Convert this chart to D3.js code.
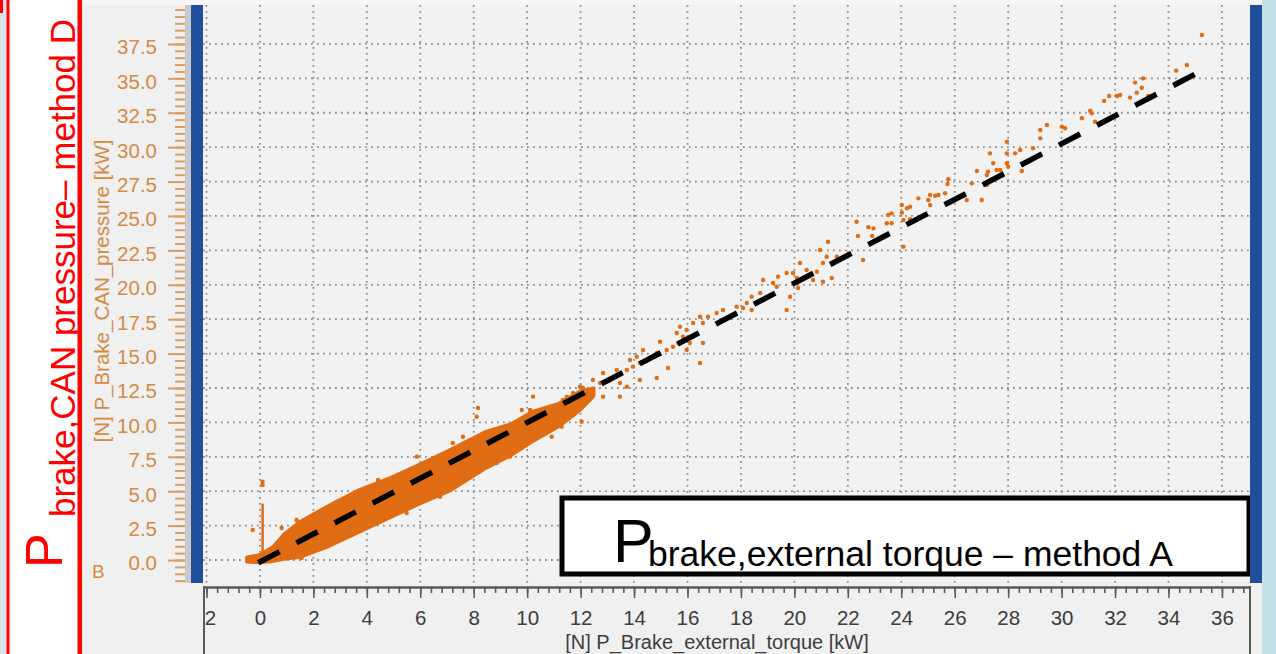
<!DOCTYPE html>
<html>
<head>
<meta charset="utf-8">
<script src="https://cdn.jsdelivr.net/npm/d3@7"></script>
<style>
    body { margin: 0; background: #f0f0f0; overflow: hidden; }
    svg { display: block; font-family: "Liberation Sans", Arial, sans-serif; }
</style>
</head>
<body>
<div id="chart"></div>
<script>
// ---- data (kW) ----
var xTickVals = [-2, 0, 2, 4, 6, 8, 10, 12, 14, 16, 18, 20, 22, 24, 26, 28, 30, 32, 34, 36];
var yTickVals = [0, 2.5, 5, 7.5, 10, 12.5, 15, 17.5, 20, 22.5, 25, 27.5, 30, 32.5, 35, 37.5];

// the dense cloud between 0 and ~12 kW, as lower / upper edge
var bandX  = [-0.5, 0.0, 0.5, 0.9, 1.5, 2.6, 3.7, 4.9, 5.9, 7.1, 8.4, 9.4, 10.2, 11.2, 12.0, 12.5];
var bandLo = [-0.15, -0.2, -0.1, 0.05, 0.2, 1.0, 2.0, 3.1, 4.0, 5.0, 6.6, 7.6, 8.6, 9.7, 10.9, 11.9];
var bandHi = [0.2, 0.4, 1.0, 1.9, 2.8, 4.0, 5.1, 6.0, 6.9, 8.0, 9.3, 9.9, 10.8, 11.4, 12.3, 12.5];

// vertical streak at 0 kW external torque
var spike = [[0.1, 0], [0.1, 4.1]];

// single points [external torque, CAN pressure]
var scatter = [
    [-0.27, 2.18], [0.10, 5.45], [0.10, 5.69], [1.56, 0.15], [4.42, 5.81], [2.87, 4.24], [2.43, 3.63],
    [1.37, 2.91], [0.81, 2.33], [6.10, 4.60], [6.74, 4.87], [8.16, 11.05], [8.11, 10.41], [7.60, 8.96],
    [10.22, 11.87], [9.80, 10.90], [10.11, 10.90], [10.92, 8.96], [11.29, 9.69], [11.34, 11.63],
    [12.09, 12.50], [12.04, 10.05], [10.59, 10.41], [10.48, 9.69], [9.10, 8.23], [9.36, 7.51],
    [8.86, 7.05], [7.86, 7.78], [7.11, 6.78], [6.48, 5.33], [6.74, 4.60], [5.49, 3.42], [5.12, 4.14],
    [3.99, 4.60], [3.25, 1.96], [2.50, 1.45], [1.87, 0.97], [1.24, 0.51], [5.87, 7.51], [7.22, 8.50],
    [8.61, 9.23], [9.61, 9.96],
    [22.33, 24.58], [22.96, 24.10], [23.51, 25.07], [22.38, 23.55], [22.57, 21.80], [22.91, 23.55],
    [21.26, 23.13], [21.59, 22.04], [21.21, 22.04], [20.96, 22.53], [21.07, 21.58], [20.21, 21.58],
    [20.46, 21.07], [20.70, 20.35], [21.07, 20.22], [21.40, 20.49], [20.84, 20.95], [19.95, 20.86],
    [20.09, 20.49], [19.71, 20.86], [19.39, 20.59], [18.83, 20.35], [19.20, 20.13], [19.34, 19.86],
    [19.84, 19.13], [19.71, 18.17], [20.14, 19.77], [18.72, 19.40], [18.40, 19.13], [18.22, 18.68],
    [18.40, 18.17], [18.08, 18.31], [17.84, 18.41], [17.33, 18.17], [17.09, 17.95], [16.77, 17.68],
    [16.47, 17.68], [16.58, 17.22], [16.21, 17.22], [15.97, 16.71], [15.72, 16.95], [15.60, 16.50],
    [15.83, 16.23], [16.09, 15.77], [16.58, 15.77], [15.65, 15.77], [15.46, 15.50], [15.22, 15.26],
    [14.97, 15.86], [15.97, 15.26], [16.47, 14.32], [15.27, 13.95], [14.85, 15.04], [14.60, 14.68],
    [14.34, 15.26], [14.22, 14.32], [14.10, 14.77], [13.85, 14.53], [13.96, 14.05], [13.73, 13.81],
    [14.85, 13.23], [14.22, 13.08], [13.35, 13.81], [13.10, 13.08], [13.47, 12.86], [12.84, 13.59],
    [12.73, 12.86], [12.46, 13.08], [12.35, 12.35], [12.84, 11.87], [13.73, 12.59], [13.47, 11.87],
    [11.98, 12.59], [11.72, 12.14], [12.09, 11.63], [11.48, 11.87],
    [35.25, 38.15], [34.69, 35.97], [34.29, 35.56], [33.05, 35.00], [32.75, 34.69], [33.00, 34.32],
    [32.81, 33.96], [33.24, 33.72], [32.56, 33.60], [32.19, 33.79], [32.07, 33.72], [31.78, 33.72],
    [31.59, 33.36], [31.07, 32.65], [31.13, 32.46], [30.76, 32.10], [31.25, 31.85], [30.01, 31.49],
    [30.13, 31.37], [29.45, 31.61], [29.20, 31.25], [29.20, 30.64], [28.93, 29.92], [28.45, 29.79],
    [28.26, 29.55], [27.95, 30.40], [27.95, 29.55], [27.32, 29.55], [27.44, 28.83], [27.95, 28.83],
    [28.00, 28.58], [27.57, 28.34], [27.70, 28.34], [28.51, 28.27], [27.25, 28.22], [27.20, 27.98],
    [26.83, 28.27], [25.76, 27.67], [25.73, 27.32], [25.64, 26.65], [25.39, 26.52], [25.27, 26.47],
    [25.08, 26.52], [25.01, 26.16], [24.64, 26.28], [25.08, 25.80], [26.64, 27.37], [27.20, 27.25],
    [26.45, 26.16], [27.01, 26.16], [24.33, 25.67], [24.21, 25.56], [24.02, 25.80], [24.02, 25.24],
    [23.64, 25.19], [23.46, 24.47], [23.64, 24.47], [24.33, 24.76], [24.08, 24.71], [22.77, 24.18],
    [24.08, 22.77]
];

// dashed reference line
var fitLine = [[-0.06, -0.2], [35.53, 35.85]];

// ---- layout ----
var W = 1276, H = 654;
var plot = {left: 203, right: 1250, top: 5, bottom: 583};
var orange = '#e06c14';
var axisOrange = '#d58a42';

var svg = d3.select('#chart').append('svg')
    .attr('width', W)
    .attr('height', H);

var x = d3.scaleLinear().domain([-2.13, 37.05]).range([plot.left, plot.right]);
var y = d3.scaleLinear().domain([-1.67, 40.33]).range([plot.bottom, plot.top]);

// window background + the slide's left panel
svg.append('rect').attr('width', W).attr('height', H).attr('fill', '#f0f0f0');
svg.append('rect').attr('x', 0).attr('y', 0).attr('width', 8).attr('height', H).attr('fill', '#d9e4ea');
svg.append('rect').attr('x', 8).attr('y', 0).attr('width', 74).attr('height', H).attr('fill', '#ffffff');
svg.append('rect').attr('x', 6.5).attr('y', 0).attr('width', 3).attr('height', H).attr('fill', '#ff0000');
svg.append('rect').attr('x', 77.5).attr('y', 0).attr('width', 4.5).attr('height', H).attr('fill', '#ff0000');
svg.append('rect').attr('x', 0).attr('y', 0).attr('width', 3).attr('height', 13).attr('fill', '#ff0000');
svg.append('rect').attr('x', 82).attr('y', 0).attr('width', W - 82).attr('height', plot.top).attr('fill', '#f6f6f6');

// plot area
svg.append('rect')
    .attr('x', plot.left).attr('y', plot.top)
    .attr('width', plot.right - plot.left).attr('height', plot.bottom - plot.top)
    .attr('fill', '#f2f2f2');

// dotted grid
var grid = svg.append('g').attr('class', 'grid')
    .attr('stroke', '#8e8e8e').attr('stroke-width', 1.8).attr('stroke-dasharray', '1.8,4.2');
grid.selectAll('.vx').data(xTickVals).enter().append('line')
    .attr('x1', function (d) { return x(d) }).attr('x2', function (d) { return x(d) })
    .attr('y1', plot.top).attr('y2', plot.bottom);
grid.selectAll('.hy').data(yTickVals).enter().append('line')
    .attr('x1', plot.left).attr('x2', plot.right)
    .attr('y1', function (d) { return y(d) }).attr('y2', function (d) { return y(d) });

var plotG = svg.append('g');

// dense cloud
var bandData = bandX.map(function (d, i) { return {x: d, lo: bandLo[i], hi: bandHi[i]} });
var area = d3.area()
    .x(function (d) { return x(d.x) })
    .y0(function (d) { return y(d.lo) })
    .y1(function (d) { return y(d.hi) })
    .curve(d3.curveLinear);
plotG.append('path')
    .datum(bandData)
    .attr('d', area)
    .attr('fill', orange)
    .attr('stroke', orange)
    .attr('stroke-width', 3)
    .attr('stroke-linejoin', 'round');

// streak at zero
plotG.append('path')
    .datum(spike)
    .attr('d', d3.line().x(function (d) { return x(d[0]) }).y(function (d) { return y(d[1]) }))
    .attr('stroke', orange)
    .attr('stroke-width', 2.5);

// points
plotG.selectAll('circle').data(scatter).enter().append('circle')
    .attr('cx', function (d) { return x(d[0]) })
    .attr('cy', function (d) { return y(d[1]) })
    .attr('r', 2.2)
    .attr('fill', orange);

// dashed line
plotG.append('path')
    .datum(fitLine)
    .attr('d', d3.line().x(function (d) { return x(d[0]) }).y(function (d) { return y(d[1]) }))
    .attr('stroke', '#000')
    .attr('stroke-width', 5.5)
    .attr('stroke-dasharray', '24,19')
    .attr('fill', 'none');

// legend box (x-axis quantity)
svg.append('rect')
    .attr('x', 562).attr('y', 498)
    .attr('width', 687).attr('height', 76)
    .attr('fill', '#ffffff')
    .attr('stroke', '#000')
    .attr('stroke-width', 5);
svg.append('text')
    .attr('x', 613).attr('y', 562)
    .attr('font-size', 61)
    .attr('fill', '#000')
    .text('P');
svg.append('text')
    .attr('x', 648).attr('y', 566)
    .attr('font-size', 35.5)
    .attr('fill', '#000')
    .text('brake,external torque \u2013 method A');

// side bars
svg.append('rect').attr('x', 185).attr('y', plot.top).attr('width', 6).attr('height', plot.bottom - plot.top).attr('fill', '#c8c8c8');
svg.append('rect').attr('x', 191).attr('y', plot.top).attr('width', 12).attr('height', plot.bottom - plot.top).attr('fill', '#1f4f9b');
svg.append('rect').attr('x', plot.right).attr('y', plot.top).attr('width', 12).attr('height', plot.bottom - plot.top).attr('fill', '#1f4f9b');
svg.append('rect').attr('x', 1262).attr('y', 0).attr('width', 14).attr('height', H).attr('fill', '#c3e3e9');

// y axis (orange)
var yMinor = svg.append('g')
    .attr('transform', 'translate(185,0)')
    .call(d3.axisLeft(y).tickValues(d3.range(-1.5, 40.01, 0.5)).tickSize(10).tickFormat(''));
var yAxis = svg.append('g')
    .attr('transform', 'translate(185,0)')
    .call(d3.axisLeft(y).tickValues(yTickVals).tickSize(17).tickPadding(11).tickFormat(d3.format('.1f')));
[yMinor, yAxis].forEach(function (g) {
    g.select('.domain').remove();
    g.selectAll('line').attr('stroke', '#dc9d62').attr('stroke-width', 2);
});
yAxis.selectAll('text')
    .attr('fill', axisOrange)
    .attr('font-size', 20.5)
    .attr('font-family', '"Liberation Sans", Arial, sans-serif')
    .attr('dy', '0.48em');

svg.append('text')
    .attr('transform', 'translate(109,291)rotate(-90)')
    .attr('text-anchor', 'middle')
    .attr('font-size', 20.5)
    .attr('fill', axisOrange)
    .text('[N] P_Brake_CAN_pressure [kW]');
svg.append('text')
    .attr('x', 92).attr('y', 578)
    .attr('font-size', 19)
    .attr('fill', axisOrange)
    .text('B');

// x axis (grey), clipped at the left frame
svg.append('clipPath').attr('id', 'xclip')
    .append('rect').attr('x', 204).attr('y', 580).attr('width', plot.right - 204).attr('height', 80);
var xG = svg.append('g').attr('clip-path', 'url(#xclip)');
var xMinor = xG.append('g')
    .attr('transform', 'translate(0,587)')
    .call(d3.axisBottom(x).tickValues(d3.range(-2, 37.01, 0.4)).tickSize(6).tickSizeOuter(0).tickFormat(''));
var xAxis = xG.append('g')
    .attr('transform', 'translate(0,587)')
    .call(d3.axisBottom(x).tickValues(xTickVals).tickSize(11).tickSizeOuter(0).tickPadding(12)
        .tickFormat(function (d) { return String(d) }));
[xMinor, xAxis].forEach(function (g) {
    g.selectAll('line').attr('stroke', '#5a5a5a').attr('stroke-width', 1.6);
    g.select('.domain').attr('stroke', '#5a5a5a').attr('stroke-width', 2);
});
xAxis.selectAll('text')
    .attr('fill', '#3c3c3c')
    .attr('font-size', 20.5)
    .attr('font-family', '"Liberation Sans", Arial, sans-serif');
svg.append('line').attr('x1', 204).attr('x2', 204).attr('y1', 586).attr('y2', H).attr('stroke', '#5a5a5a').attr('stroke-width', 2);
svg.append('line').attr('x1', plot.right).attr('x2', plot.right).attr('y1', 586).attr('y2', H).attr('stroke', '#5a5a5a').attr('stroke-width', 2);

svg.append('text')
    .attr('x', 717).attr('y', 649)
    .attr('text-anchor', 'middle')
    .attr('font-size', 20)
    .attr('fill', '#3c3c3c')
    .text('[N] P_Brake_external_torque [kW]');

// red y label of the slide
var red = svg.append('g').attr('fill', '#ff0000');
red.append('text')
    .attr('transform', 'translate(62,568)rotate(-90)')
    .attr('font-size', 52)
    .text('P');
red.append('text')
    .attr('transform', 'translate(75,517)rotate(-90)')
    .attr('font-size', 35)
    .text('brake,CAN pressure\u2013 method D');
</script>
</body>
</html>
